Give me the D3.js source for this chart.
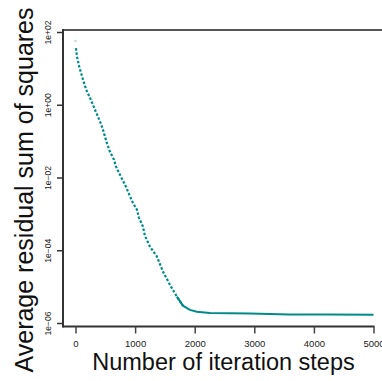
<!DOCTYPE html>
<html>
<head>
<meta charset="utf-8">
<script src="https://cdn.jsdelivr.net/npm/d3@7"></script>
<style>
  html, body { margin: 0; padding: 0; background: #fff; }
  svg { display: block; font-family: "Liberation Sans", Arial, Helvetica, sans-serif; }
</style>
</head>
<body>
<svg id="chart" width="382" height="381"></svg>
<script>
// ---- data ----
const startStep = [0];
const startResidual = [57];
const steps = [8, 25, 59, 92, 126, 159, 193, 243, 293, 327, 377, 427, 461, 490, 530, 578, 645, 679, 729, 796, 847, 880, 964, 1031, 1064, 1131, 1165, 1249, 1366, 1467, 1584, 1701, 1802, 1919, 2036, 2254, 2925, 3595, 4265, 5000];
const residuals = [36, 21, 11.8, 7.6, 4.9, 3.3, 2.3, 1.56, 1.0, 0.73, 0.47, 0.30, 0.206, 0.14, 0.085, 0.051, 0.031, 0.020, 0.0135, 0.0082, 0.0056, 0.0041, 0.0020, 0.0013, 0.00079, 0.00045, 0.00025, 1.26e-4, 6.7e-5, 2.6e-5, 1.13e-5, 5.3e-6, 3.0e-6, 2.3e-6, 2.04e-6, 1.87e-6, 1.82e-6, 1.70e-6, 1.70e-6, 1.68e-6];
const xTicks = [0, 1000, 2000, 3000, 4000, 5000];
const yTicks = [1e2, 1, 1e-2, 1e-4, 1e-6];
const yTickLabels = ["1e+02", "1e+00", "1e\u221202", "1e\u221204", "1e\u221206"];
const xTitle = "Number of iteration steps";
const yTitle = "Average residual sum of squares";

const svg = d3.select("#chart");
const x = d3.scaleLinear().domain([0, 5000]).range([75.5, 373.5]);
const y = d3.scaleLog().domain([1e-6, 1e2]).range([323, 32]);

const colour = "#008b8b";
const frame = { left: 63, top: 30, bottom: 326.5, right: 382 };

// frame lines
svg.append("line").attr("x1", frame.left).attr("x2", frame.right)
  .attr("y1", frame.top).attr("y2", frame.top)
  .attr("stroke", "#555").attr("stroke-width", 2);
svg.append("line").attr("x1", frame.left).attr("x2", frame.left)
  .attr("y1", frame.top - 1).attr("y2", frame.bottom + 1)
  .attr("stroke", "#333").attr("stroke-width", 2);
svg.append("line").attr("x1", frame.left).attr("x2", x(5000) + 1)
  .attr("y1", frame.bottom).attr("y2", frame.bottom)
  .attr("stroke", "#333").attr("stroke-width", 2);

// x axis ticks + labels
const xAxis = d3.axisBottom(x).tickValues(xTicks).tickSize(7).tickPadding(7)
  .tickFormat(d3.format("d"));
const gx = svg.append("g").attr("transform", `translate(0,${frame.bottom})`).call(xAxis);
gx.select(".domain").remove();
gx.selectAll(".tick line").attr("stroke", "#444").attr("stroke-width", 1.5);
gx.selectAll(".tick text").attr("font-size", 9.5).attr("fill", "#222")
  .attr("font-family", "Liberation Sans, Arial, sans-serif");

// y axis ticks + rotated labels
const yAxis = d3.axisLeft(y).tickValues(yTicks).tickSize(6)
  .tickFormat((d, i) => yTickLabels[i]);
const gy = svg.append("g").attr("transform", `translate(${frame.left},0)`).call(yAxis);
gy.select(".domain").remove();
gy.selectAll(".tick line").attr("stroke", "#333").attr("stroke-width", 1.5);
gy.selectAll(".tick text")
  .attr("font-size", 8.5).attr("fill", "#222")
  .attr("font-family", "Liberation Sans, Arial, sans-serif")
  .attr("x", null).attr("dy", null)
  .attr("text-anchor", "middle")
  .attr("transform", "translate(-12,0) rotate(-90)");

// data: first faded point
svg.selectAll("rect.start").data(startStep).enter().append("rect")
  .attr("class", "start")
  .attr("x", (d) => x(d) - 1).attr("y", (d, i) => y(startResidual[i]) - 1)
  .attr("width", 2).attr("height", 2).attr("fill", "#a8dcdc");

const pts = steps.map((s, i) => [s, residuals[i]]);
const line = d3.line().x((d) => x(d[0])).y((d) => y(d[1]));
const descent = pts.filter((d) => d[0] <= 1802);
const plateau = pts.filter((d) => d[0] >= 1701);
svg.append("path").attr("d", line(descent)).attr("fill", "none")
  .attr("stroke", colour).attr("stroke-width", 2.2)
  .attr("stroke-dasharray", "2.5,1.8");
svg.append("path").attr("d", line(plateau)).attr("fill", "none")
  .attr("stroke", colour).attr("stroke-width", 2);

// titles
svg.append("text").attr("x", (frame.left + frame.right) / 2 + 1).attr("y", 370)
  .attr("text-anchor", "middle").attr("font-size", 23.5).attr("fill", "#111")
  .text(xTitle);
svg.append("text").attr("transform", "translate(33,190) rotate(-90)")
  .attr("text-anchor", "middle").attr("font-size", 25).attr("fill", "#111")
  .text(yTitle);
</script>
</body>
</html>
